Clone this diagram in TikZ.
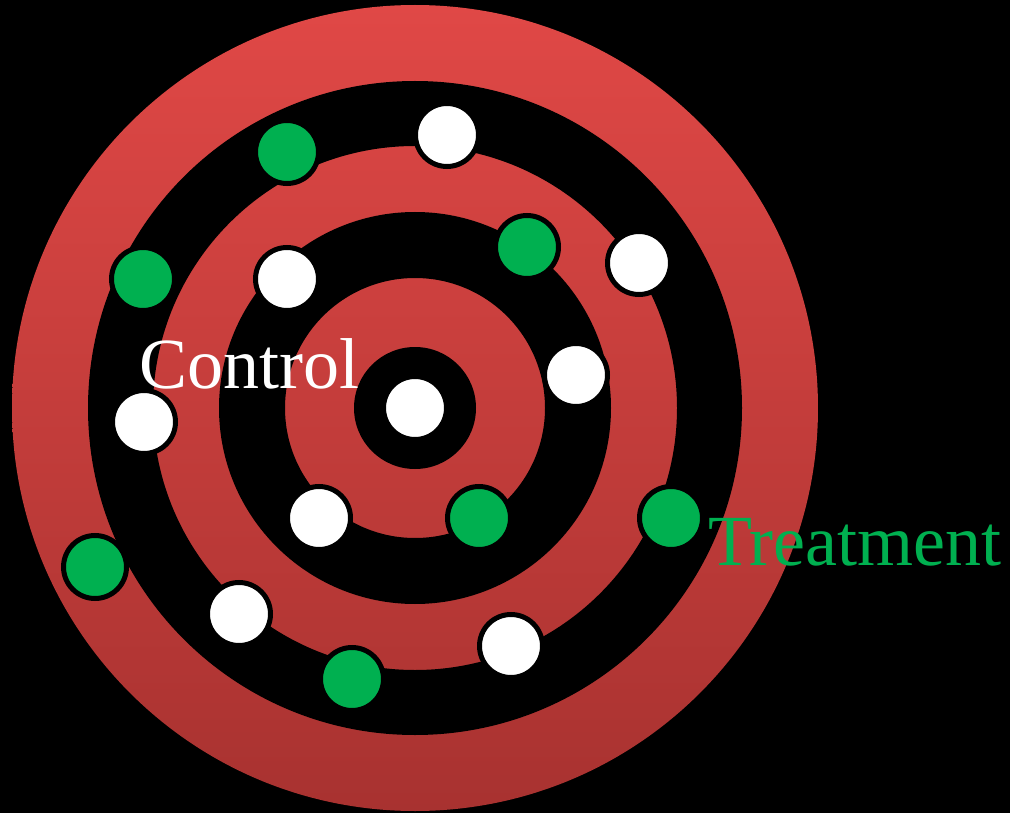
\documentclass[tikz,border=0pt]{standalone}
\usepackage{fontspec}
\setmainfont{Liberation Serif}
\definecolor{targettop}{RGB}{224, 72, 70}
\definecolor{targetbottom}{RGB}{168, 50, 48}
\definecolor{treatgreen}{RGB}{0, 176, 80}
\usetikzlibrary{positioning}

\tikzset{
    ctrl/.style={circle, draw=black, line width=5pt, fill=white, minimum size=63pt, inner sep=0pt},
    treat/.style={ctrl, fill=treatgreen},
    ring/.style={fill=black, even odd rule}
}

\begin{document}
\begin{tikzpicture}[x=1pt, y=-1pt, every node/.style={font=\fontsize{72}{80}\selectfont}]
    % background
    \fill[black] (0,0) rectangle (1010,813);
    \useasboundingbox (0,0) rectangle (1010,813);
    \coordinate (c) at (415,408);

    % target
    \shade[top color=targettop, bottom color=targetbottom] (c) circle (403);
    \fill[ring] (c) circle (327) (c) circle (262);
    \fill[ring] (c) circle (196) (c) circle (130);
    \fill[black] (c) circle (61);

    % control units
    \node [ctrl] (w1) at (447,135) {};
    \node [ctrl] (w2) at (287,279) {};
    \node [ctrl] (w3) at (639,263) {};
    \node [ctrl] (w4) at (576,375) {};
    \node [ctrl] (w5) at (415,408) {};
    \node [ctrl] (w6) at (144,422) {};
    \node [ctrl] (w7) at (319,518) {};
    \node [ctrl] (w8) at (239,614) {};
    \node [ctrl] (w9) at (511,646) {};

    % treated units
    \node [treat] (g1) at (287,152) {};
    \node [treat] (g2) at (143,279) {};
    \node [treat] (g3) at (527,247) {};
    \node [treat] (g4) at (479,518) {};
    \node [treat] (g5) at (95,567) {};
    \node [treat] (g6) at (352,679) {};
    \node [treat] (g7) at (671,518) {};

    % labels
    \node [anchor=base west, inner sep=0pt, text=white] (ctrllabel) at (139,388) {Control};
    \node [anchor=base west, inner sep=0pt, text=treatgreen] (treatlabel) at (708,565) {Treatment};
\end{tikzpicture}
\end{document}
